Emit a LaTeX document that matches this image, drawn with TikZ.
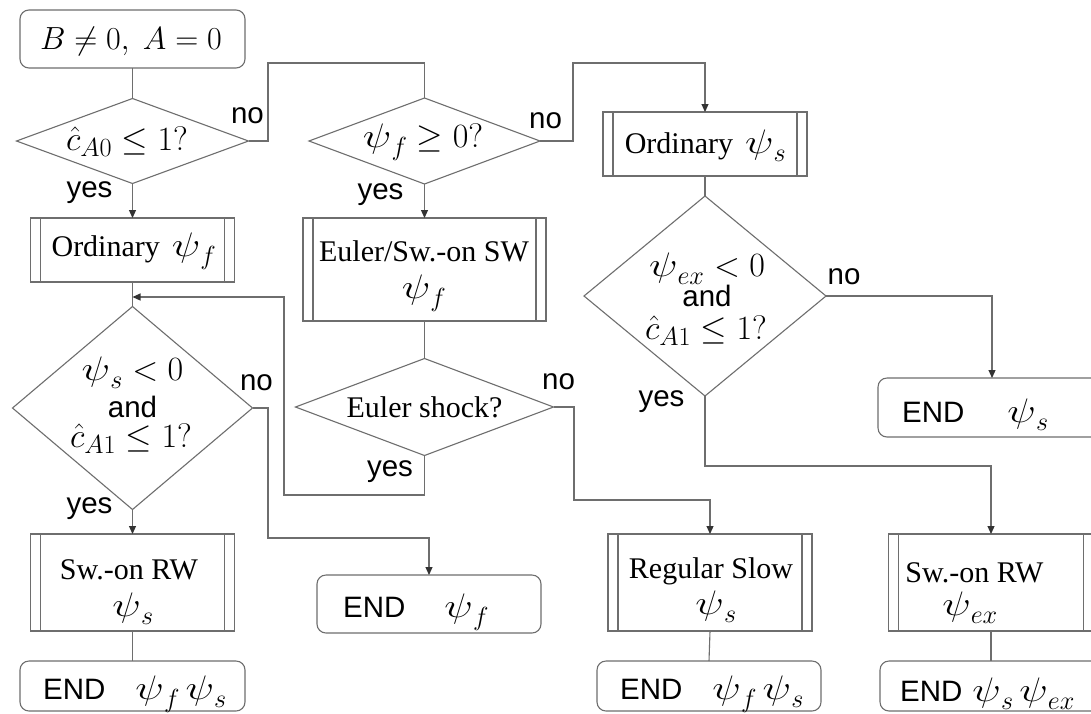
\documentclass[tikz,border=0pt]{standalone}
\usepackage{fix-cm}
\usepackage[no-math]{fontspec}
\setmainfont{Liberation Serif}
\newfontfamily\sansfam{Liberation Sans}
\usepackage{graphicx}
\usetikzlibrary{shapes.geometric,arrows.meta}

\definecolor{linec}{HTML}{6E6E6E}

% larger subscripts than the default ratio
\renewcommand{\defaultscriptratio}{.77}
% a slightly wider psi, and math set a little larger than the text
\newcommand{\wpsi}{\mathord{\scalebox{1.25}[1]{$\psi$}}}
\newcommand{\mth}[2][34]{{\fontsize{#1}{#1}\selectfont$#2$}}

\tikzset{
  conn/.style={draw=linec, line width=1.1pt},
  arr/.style={conn, -{Triangle[length=8pt,width=7pt,color=black!80]}},
  shapebase/.style={draw=linec, line width=1.1pt, fill=white, inner sep=0pt, outer sep=0pt},
  term/.style={shapebase, rectangle, rounded corners=9pt},
  proc/.style={shapebase, rectangle,
    path picture={
      \draw[linec, line width=1.1pt]
        ([xshift=10pt]path picture bounding box.north west) -- ([xshift=10pt]path picture bounding box.south west)
        ([xshift=-10pt]path picture bounding box.north east) -- ([xshift=-10pt]path picture bounding box.south east);
    }},
  dia/.style={shapebase, diamond},
  txt/.style={inner sep=0pt, font=\fontsize{30}{34}\selectfont},
  lab/.style={inner sep=0pt, font=\sansfam\fontsize{29.5}{33}\selectfont},
}

\begin{document}
\begin{tikzpicture}[x=1pt,y=-1pt]
\useasboundingbox (0,0) rectangle (1091,713);
\fill[white] (0,0) rectangle (1091,713);
\clip (0,0) rectangle (1091,713);

% ---- left column
\node[term, minimum width=225pt, minimum height=58pt] (start) at (132.5,39) {};
\node[txt] (startt) at (131,41) {\mth[32]{B\neq 0,\ A=0}};

\node[dia, minimum width=232pt, minimum height=85pt] (d1) at (132.5,141) {};
\node[txt] (d1t) at (127,142) {\mth{\hat c_{A0}\le 1?}};

\node[proc, minimum width=204pt, minimum height=64pt] (p1) at (132.5,250) {};
\node[txt] (p1t) at (134,251) {Ordinary\hspace{12pt}\mth{\wpsi_f}};

\node[dia, minimum width=240pt, minimum height=203pt] (d3) at (132.5,408) {};
\node[txt] (d3a) at (132.5,373) {\mth{\wpsi_s<0}};
\node[lab] (d3b) at (132.5,407) {and};
\node[txt] (d3c) at (131,439) {\mth{\hat c_{A1}\le 1?}};

\node[proc, minimum width=204pt, minimum height=97pt] (p3) at (132.5,582.5) {};
\node[txt] (p3a) at (129,570) {Sw.-on RW};
\node[txt] (p3b) at (133,609) {\mth{\wpsi_s}};

\node[term, minimum width=225pt, minimum height=50pt] (e1) at (132.5,686) {};
\node[lab, anchor=west] (e1t) at (43,694) {END\hspace{30pt}\mth{\wpsi_f\,\wpsi_s}};

% ---- middle column
\node[dia, minimum width=231pt, minimum height=86pt] (d2) at (424.5,141) {};
\node[txt] (d2t) at (423,142) {\mth{\wpsi_f\ge 0?}};

\node[proc, minimum width=243pt, minimum height=103pt] (p2) at (424.5,269.5) {};
\node[txt] (p2a) at (424,251) {Euler/Sw.-on SW};
\node[txt] (p2b) at (424,293) {\mth{\wpsi_f}};

\node[dia, minimum width=258pt, minimum height=97pt] (d5) at (424.5,407) {};
\node[txt] (d5t) at (424.5,407) {Euler shock?};

\node[term, minimum width=224pt, minimum height=58pt] (e2) at (429,604) {};
\node[lab, anchor=west] (e2t) at (343,612) {END\hspace{39pt}\mth{\wpsi_f}};

% ---- right column
\node[proc, minimum width=204pt, minimum height=64pt] (p4) at (705,144) {};
\node[txt] (p4t) at (705.5,146) {Ordinary\hspace{12pt}\mth{\wpsi_s}};

\node[dia, minimum width=242pt, minimum height=200pt] (d4) at (705,296) {};
\node[txt] (d4a) at (707,269) {\mth{\wpsi_{ex}<0}};
\node[lab] (d4b) at (707,296) {and};
\node[txt] (d4c) at (706,331) {\mth{\hat c_{A1}\le 1?}};

\node[proc, minimum width=204pt, minimum height=97pt] (p5) at (710,582.5) {};
\node[txt] (p5a) at (711,571) {Regular Slow};
\node[txt] (p5b) at (716,606.5) {\mth{\wpsi_s}};

\node[term, minimum width=224pt, minimum height=50pt] (e4) at (709,686) {};
\node[lab, anchor=west] (e4t) at (620,694) {END\hspace{30pt}\mth{\wpsi_f\,\wpsi_s}};

% ---- far right
\node[term, minimum width=228pt, minimum height=59pt] (e3) at (992,407.5) {};
\node[lab, anchor=west] (e3t) at (902,415) {END\hspace{43pt}\mth{\wpsi_s}};

\node[proc, minimum width=205pt, minimum height=97pt] (p6) at (991,582.5) {};
\node[txt] (p6a) at (974.5,572.5) {Sw.-on RW};
\node[txt] (p6b) at (970,607.5) {\mth{\wpsi_{ex}}};

\node[term, minimum width=222pt, minimum height=50pt] (e5) at (991,686) {};
\node[lab, anchor=west] (e5t) at (900,694) {END\hspace{10pt}\mth{\wpsi_s\,\wpsi_{ex}}};

% ---- branch labels
\node[lab] (no1) at (247.5,116) {no};
\node[lab] (yes1) at (89.5,193) {yes};
\node[lab] (no2) at (545.5,121) {no};
\node[lab] (yes2) at (380.5,195) {yes};
\node[lab] (no3) at (256.5,383) {no};
\node[lab] (yes3) at (89.5,509) {yes};
\node[lab] (no5) at (558.5,382) {no};
\node[lab] (yes5) at (390,472) {yes};
\node[lab] (no4) at (844,277) {no};
\node[lab] (yes4) at (661.5,402) {yes};

% ---- bend points
\coordinate (k1) at (268,63);
\coordinate (k2) at (268,538);
\coordinate (k3) at (284,495);
\coordinate (k4) at (132.5,297);
\coordinate (k5) at (574,500);
\coordinate (k6) at (573,63);
\coordinate (k7) at (705,466);

% ---- connectors
\draw[conn] (start.south) -- (d1.north);
\draw[conn] (d1.east) -| (k1) -| (d2.north);
\draw[arr] (d1.south) -- (p1.north);
\draw[conn] (p1.south) -- (d3.north);
\draw[arr] (d3.south) -- (p3.north);
\draw[conn] (p3.south) -- (e1.north);
\draw[arr] (d3.east) -| (k2) -| (e2.north);
\draw[arr] (d2.south) -- (p2.north);
\draw[conn] (p2.south) -- (d5.north);
\draw[arr] (d5.south) |- (k3) |- (k4);
\draw[arr] (d5.east) -| (k5) -| (p5.north);
\draw[arr] (d2.east) -| (k6) -| (p4.north);
\draw[conn] (p4.south) -- (d4.north);
\draw[arr] (d4.east) -| (e3.north);
\draw[arr] (d4.south) -- (k7) -| (p6.north);
\draw[conn] (p5.south) -- (e4.north);
\draw[conn] (p6.south) -- (e5.north);
\end{tikzpicture}
\end{document}
